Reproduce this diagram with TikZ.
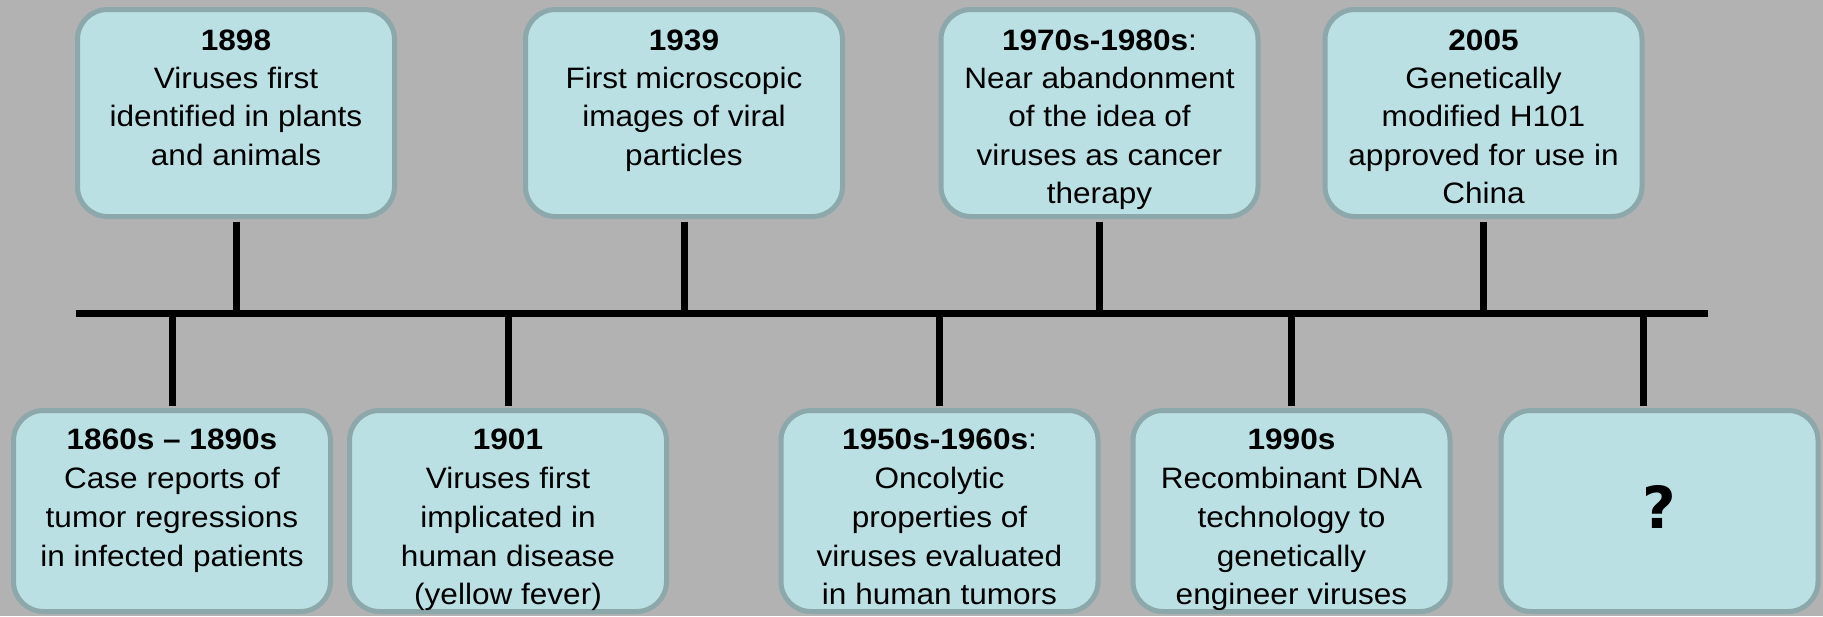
\documentclass[tikz,border=0pt]{standalone}
\usepackage{fontspec}
\setmainfont{Liberation Sans}[FakeStretch=1.07]
\newfontfamily\qfont{DejaVu Sans}
\definecolor{bgcol}{HTML}{B2B2B2}
\definecolor{boxfill}{HTML}{BBE0E3}
\definecolor{boxline}{HTML}{8DA8AA}
\begin{document}
\begin{tikzpicture}[x=1pt,y=-1pt,
  box/.style={draw=boxline, fill=boxfill, line width=5pt, rounded corners=30pt, minimum width=317pt, inner sep=0pt},
  topbox/.style={box, minimum height=207pt},
  botbox/.style={box, minimum height=201pt},
  txt/.style={anchor=north, inner sep=0pt, align=center, font=\fontsize{29.5}{38.3}\selectfont},
  btxt/.style={txt, font=\fontsize{29.5}{38.8}\selectfont},
  conn/.style={line width=7pt}]
\path[use as bounding box, fill=bgcol] (0,0) rectangle (1823,616);

% timeline
\coordinate (L) at (75.6,313);
\coordinate (R) at (1708,313);
\draw[conn] (L) -- (R);

% top boxes
\node[topbox] (t1) at (236,113) {};
\node[topbox] (t2) at (684,113) {};
\node[topbox] (t3) at (1099.5,113) {};
\node[topbox] (t4) at (1483.5,113) {};

\node[txt] (t1t) at (236,22) {\rule{0pt}{28pt}\textbf{1898}\\Viruses first\\identified in plants\\and animals};
\node[txt] (t2t) at (684,22) {\rule{0pt}{28pt}\textbf{1939}\\First microscopic\\images of viral\\particles};
\node[txt] (t3t) at (1099.5,22) {\rule{0pt}{28pt}\textbf{1970s-1980s}:\\Near abandonment\\of the idea of\\viruses as cancer\\therapy};
\node[txt] (t4t) at (1483.5,22) {\rule{0pt}{28pt}\textbf{2005}\\Genetically\\modified H101\\approved for use in\\China};

% bottom boxes
\node[botbox] (b1) at (172,511) {};
\node[botbox] (b2) at (508,511) {};
\node[botbox] (b3) at (939.5,511) {};
\node[botbox] (b4) at (1291.5,511) {};
\node[botbox] (b5) at (1659.5,511) {};

\node[btxt] (b1t) at (172,421.5) {\rule{0pt}{28pt}\textbf{1860s – 1890s}\\Case reports of\\tumor regressions\\in infected patients};
\node[btxt] (b2t) at (508,421.5) {\rule{0pt}{28pt}\textbf{1901}\\Viruses first\\implicated in\\human disease\\(yellow fever)};
\node[btxt] (b3t) at (939.5,421.5) {\rule{0pt}{28pt}\textbf{1950s-1960s}:\\Oncolytic\\properties of\\viruses evaluated\\in human tumors};
\node[btxt] (b4t) at (1291.5,421.5) {\rule{0pt}{28pt}\textbf{1990s}\\Recombinant DNA\\technology to\\genetically\\engineer viruses};
\node[inner sep=0pt, font=\qfont\bfseries\fontsize{58}{60}\selectfont] (b5t) at (1659.5,507) {?};

% connectors
\foreach \n in {t1,t2,t3,t4}
  \draw[conn, shorten <=2.5pt] (\n.south) -- (\n.south |- L);
\foreach \n in {b1,b2,b3,b4}
  \draw[conn, shorten >=2.5pt] (\n.north |- L) -- (\n.north);
\coordinate (ej) at (1643,313);
\draw[conn, shorten >=2.5pt] (ej) -- (ej |- b5.north);
\end{tikzpicture}
\end{document}
